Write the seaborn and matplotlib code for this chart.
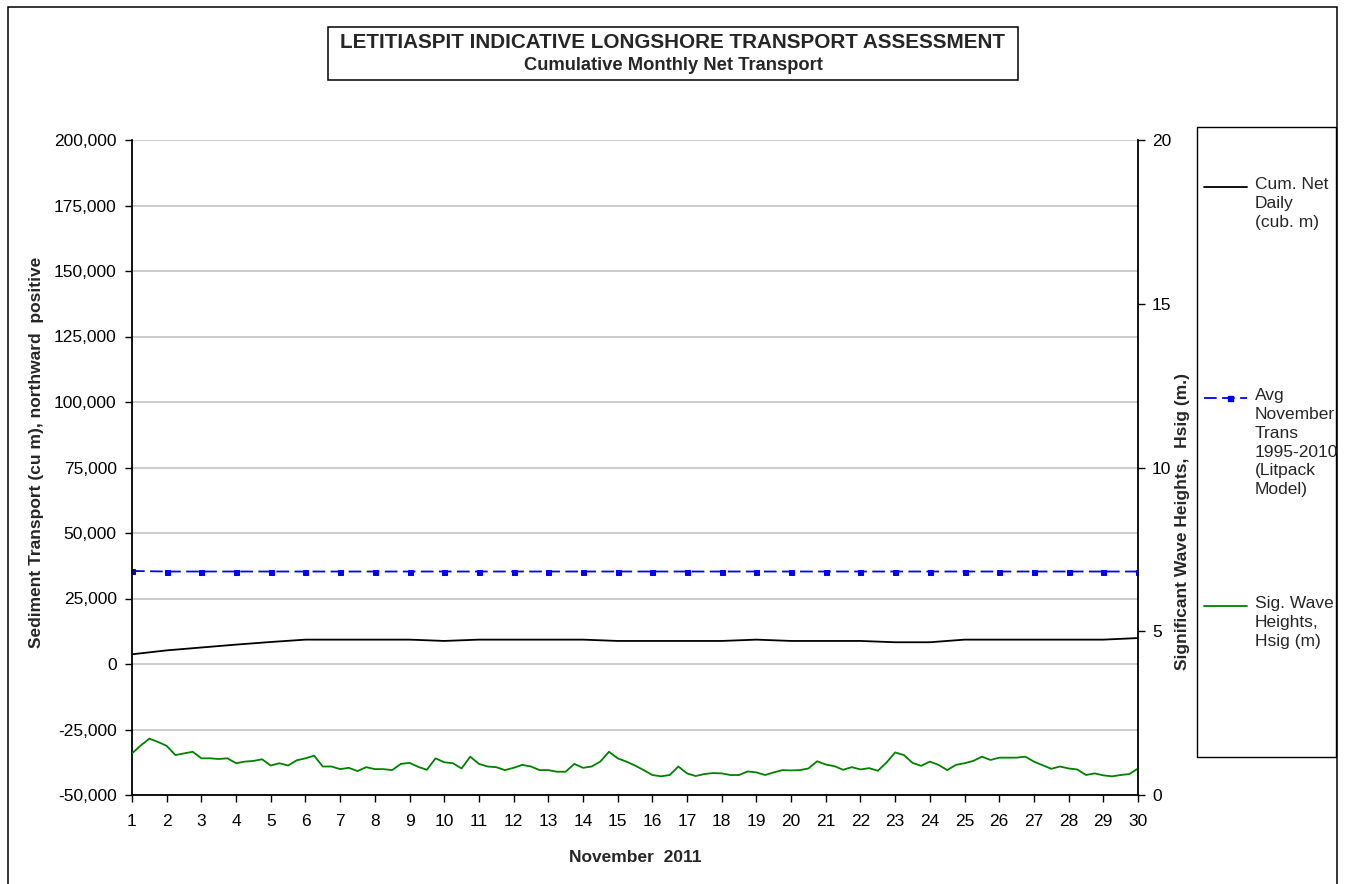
import numpy as np
import matplotlib
matplotlib.use("Agg")
import matplotlib.pyplot as plt
import seaborn as sns
from matplotlib.patches import Rectangle
from matplotlib.lines import Line2D
from matplotlib import font_manager
from matplotlib.ticker import FuncFormatter

# ---------------- data ----------------
days = list(range(1, 31))
day_labels = [str(d) for d in days]

cum_net_daily = [3700, 5200, 6300, 7400, 8400, 9300, 9300, 9300, 9300, 8800,
                 9300, 9300, 9300, 9300, 8800, 8800, 8800, 8800, 9300, 8800,
                 8800, 8800, 8300, 8300, 9300, 9300, 9300, 9300, 9300, 9900]

avg_nov_trans = [35500] + [35300] * 29

# significant wave height, sampled every 6 hours from 1 Nov to 30 Nov
wave_hsig = [
    1.27, 1.51, 1.72, 1.62, 1.50, 1.22, 1.27, 1.32, 1.12, 1.12,
    1.10, 1.12, 0.97, 1.02, 1.04, 1.09, 0.90, 0.97, 0.90, 1.06,
    1.12, 1.20, 0.87, 0.87, 0.79, 0.83, 0.73, 0.85, 0.79, 0.79,
    0.76, 0.95, 0.98, 0.86, 0.77, 1.12, 1.00, 0.97, 0.81, 1.17,
    0.95, 0.87, 0.85, 0.76, 0.83, 0.92, 0.87, 0.76, 0.76, 0.71,
    0.71, 0.95, 0.83, 0.87, 1.02, 1.32, 1.12, 1.02, 0.90, 0.76,
    0.61, 0.57, 0.61, 0.87, 0.66, 0.58, 0.64, 0.67, 0.66, 0.61,
    0.61, 0.72, 0.69, 0.61, 0.69, 0.76, 0.75, 0.76, 0.81, 1.03,
    0.93, 0.88, 0.77, 0.85, 0.78, 0.82, 0.74, 0.99, 1.30, 1.22,
    0.98, 0.89, 1.02, 0.92, 0.76, 0.92, 0.97, 1.04, 1.17, 1.07,
    1.14, 1.14, 1.14, 1.17, 1.02, 0.91, 0.80, 0.87, 0.81, 0.78,
    0.61, 0.66, 0.60, 0.57, 0.61, 0.64, 0.81,
]
wave_days = np.linspace(1, 30, len(wave_hsig))

left_ticks = [-50000, -25000, 0, 25000, 50000, 75000, 100000, 125000, 150000, 175000, 200000]
right_ticks = [0, 5, 10, 15, 20]

title_line1 = "LETITIASPIT INDICATIVE LONGSHORE TRANSPORT ASSESSMENT"
title_line2 = "Cumulative Monthly Net Transport"
left_label = "Sediment Transport (cu m), northward  positive"
right_label = "Significant Wave Heights,  Hsig (m.)"
x_label = "November  2011"
legend_labels = ["Cum. Net\nDaily\n(cub. m)",
                 "Avg\nNovember\nTrans\n1995-2010\n(Litpack\nModel)",
                 "Sig. Wave\nHeights,\nHsig (m)"]

# ---------------- style ----------------
sns.set_style("white")
plt.rcParams['font.family'] = ['Liberation Sans', 'DejaVu Sans']


def has_font(name):
    try:
        font_manager.findfont(font_manager.FontProperties(family=name),
                              fallback_to_default=False)
        return True
    except Exception:
        return False


if has_font('Liberation Sans Narrow'):
    title_family, t1_size, t2_size = ['Liberation Sans Narrow', 'Liberation Sans'], 17.5, 15.5
else:
    title_family, t1_size, t2_size = ['Liberation Sans', 'DejaVu Sans'], 14.9, 13.2

W, H = 1347, 884
fig = plt.figure(figsize=(W / 100, H / 100), dpi=100)
fig.patch.set_facecolor('white')


def fx(px):
    return px / W


def fy(py):
    return 1 - py / H


ax = fig.add_axes([fx(132), fy(795), (1138 - 132) / W, (795 - 140) / H])
ax2 = ax.twinx()

# ---------------- series ----------------
sns.lineplot(x=days, y=cum_net_daily, ax=ax, color='black', linewidth=1.3,
             estimator=None)
sns.lineplot(x=days, y=avg_nov_trans, ax=ax, color='#0000FF', linewidth=1.3,
             linestyle=(0, (7, 3)), marker='s', markersize=3.6,
             markeredgecolor='#0000FF', markerfacecolor='#0000FF', estimator=None)
sns.lineplot(x=wave_days, y=wave_hsig, ax=ax2, color='#008000', linewidth=1.3,
             estimator=None)

# ---------------- axes ----------------
ax.set_xlim(1, 30)
ax.set_ylim(-50000, 200000)
ax.set_xticks(days)
ax.set_xticklabels(day_labels)
ax.set_yticks(left_ticks)
ax.yaxis.set_major_formatter(FuncFormatter(lambda v, p: f"{v:,.0f}"))
ax.yaxis.grid(True, color='#c8c8c8', linewidth=1.3)
ax.xaxis.grid(False)
ax.set_axisbelow(True)
ax.set_xlabel('')
ax.set_ylabel('')

ax2.set_ylim(0, 20)
ax2.set_yticks(right_ticks)
ax2.set_ylabel('')
ax2.grid(False)

for a in (ax, ax2):
    a.spines['top'].set_visible(False)
    a.patch.set_alpha(0)
ax.spines['right'].set_visible(False)
ax2.spines['left'].set_visible(False)
ax2.spines['bottom'].set_visible(False)
for s in ('left', 'bottom'):
    ax.spines[s].set_color('black')
    ax.spines[s].set_linewidth(1.3)
ax2.spines['right'].set_color('black')
ax2.spines['right'].set_linewidth(1.3)

ax.tick_params(axis='y', direction='out', length=5, width=1, pad=6,
               labelsize=12.5, colors='black', left=True)
ax.tick_params(axis='x', direction='out', length=5, width=1, pad=9,
               labelsize=12.5, colors='black', bottom=True)
ax2.tick_params(axis='y', direction='out', length=5, width=1, pad=5,
                labelsize=12.5, colors='black', right=True)

# axis titles
fig.text(fx(37), fy(452), left_label, rotation=90, ha='center', va='center',
         fontsize=12.5, fontweight='bold')
fig.text(fx(1183), fy(521), right_label, rotation=90, ha='center', va='center',
         fontsize=12.5, fontweight='bold')
fig.text(fx(635), fy(857), x_label, ha='center', va='center',
         fontsize=12.5, fontweight='bold')

# title box
fig.patches.append(Rectangle((fx(328), fy(80)), (1018 - 328) / W, (80 - 27) / H,
                             transform=fig.transFigure, fill=False,
                             edgecolor='black', linewidth=1.1))
fig.text(fx(673), fy(43), title_line1, ha='center', va='center',
         fontsize=t1_size, fontweight='bold', family=title_family)
fig.text(fx(673), fy(65), title_line2, ha='center', va='center',
         fontsize=t2_size, fontweight='bold', family=title_family)

# outer frame
fig.patches.append(Rectangle((fx(8), -0.02), (1337 - 8) / W, fy(7) + 0.02,
                             transform=fig.transFigure, fill=False,
                             edgecolor='black', linewidth=1.1, clip_on=False))

# legend box (manual)
fig.patches.append(Rectangle((fx(1197), fy(757)), (1336 - 1197) / W, (757 - 127) / H,
                             transform=fig.transFigure, fill=False,
                             edgecolor='black', linewidth=1.0))
leg_y = [187, 398, 606]
fig.lines.append(Line2D([fx(1204), fx(1247)], [fy(leg_y[0])] * 2,
                        transform=fig.transFigure, color='black', linewidth=1.3))
fig.lines.append(Line2D([fx(1204), fx(1247)], [fy(leg_y[1])] * 2,
                        transform=fig.transFigure, color='#0000FF', linewidth=1.3,
                        linestyle=(0, (7, 3))))
fig.lines.append(Line2D([fx(1230)], [fy(leg_y[1])], transform=fig.transFigure,
                        color='#0000FF', marker='s', markersize=3.6, linestyle='none'))
fig.lines.append(Line2D([fx(1204), fx(1247)], [fy(leg_y[2])] * 2,
                        transform=fig.transFigure, color='#008000', linewidth=1.3))
for yy, lab in zip(leg_y, legend_labels):
    fig.text(fx(1255), fy(yy - 10), lab, ha='left', va='top', fontsize=12.5,
             linespacing=1.32)

fig.savefig("out.png", dpi=100, facecolor='white')
